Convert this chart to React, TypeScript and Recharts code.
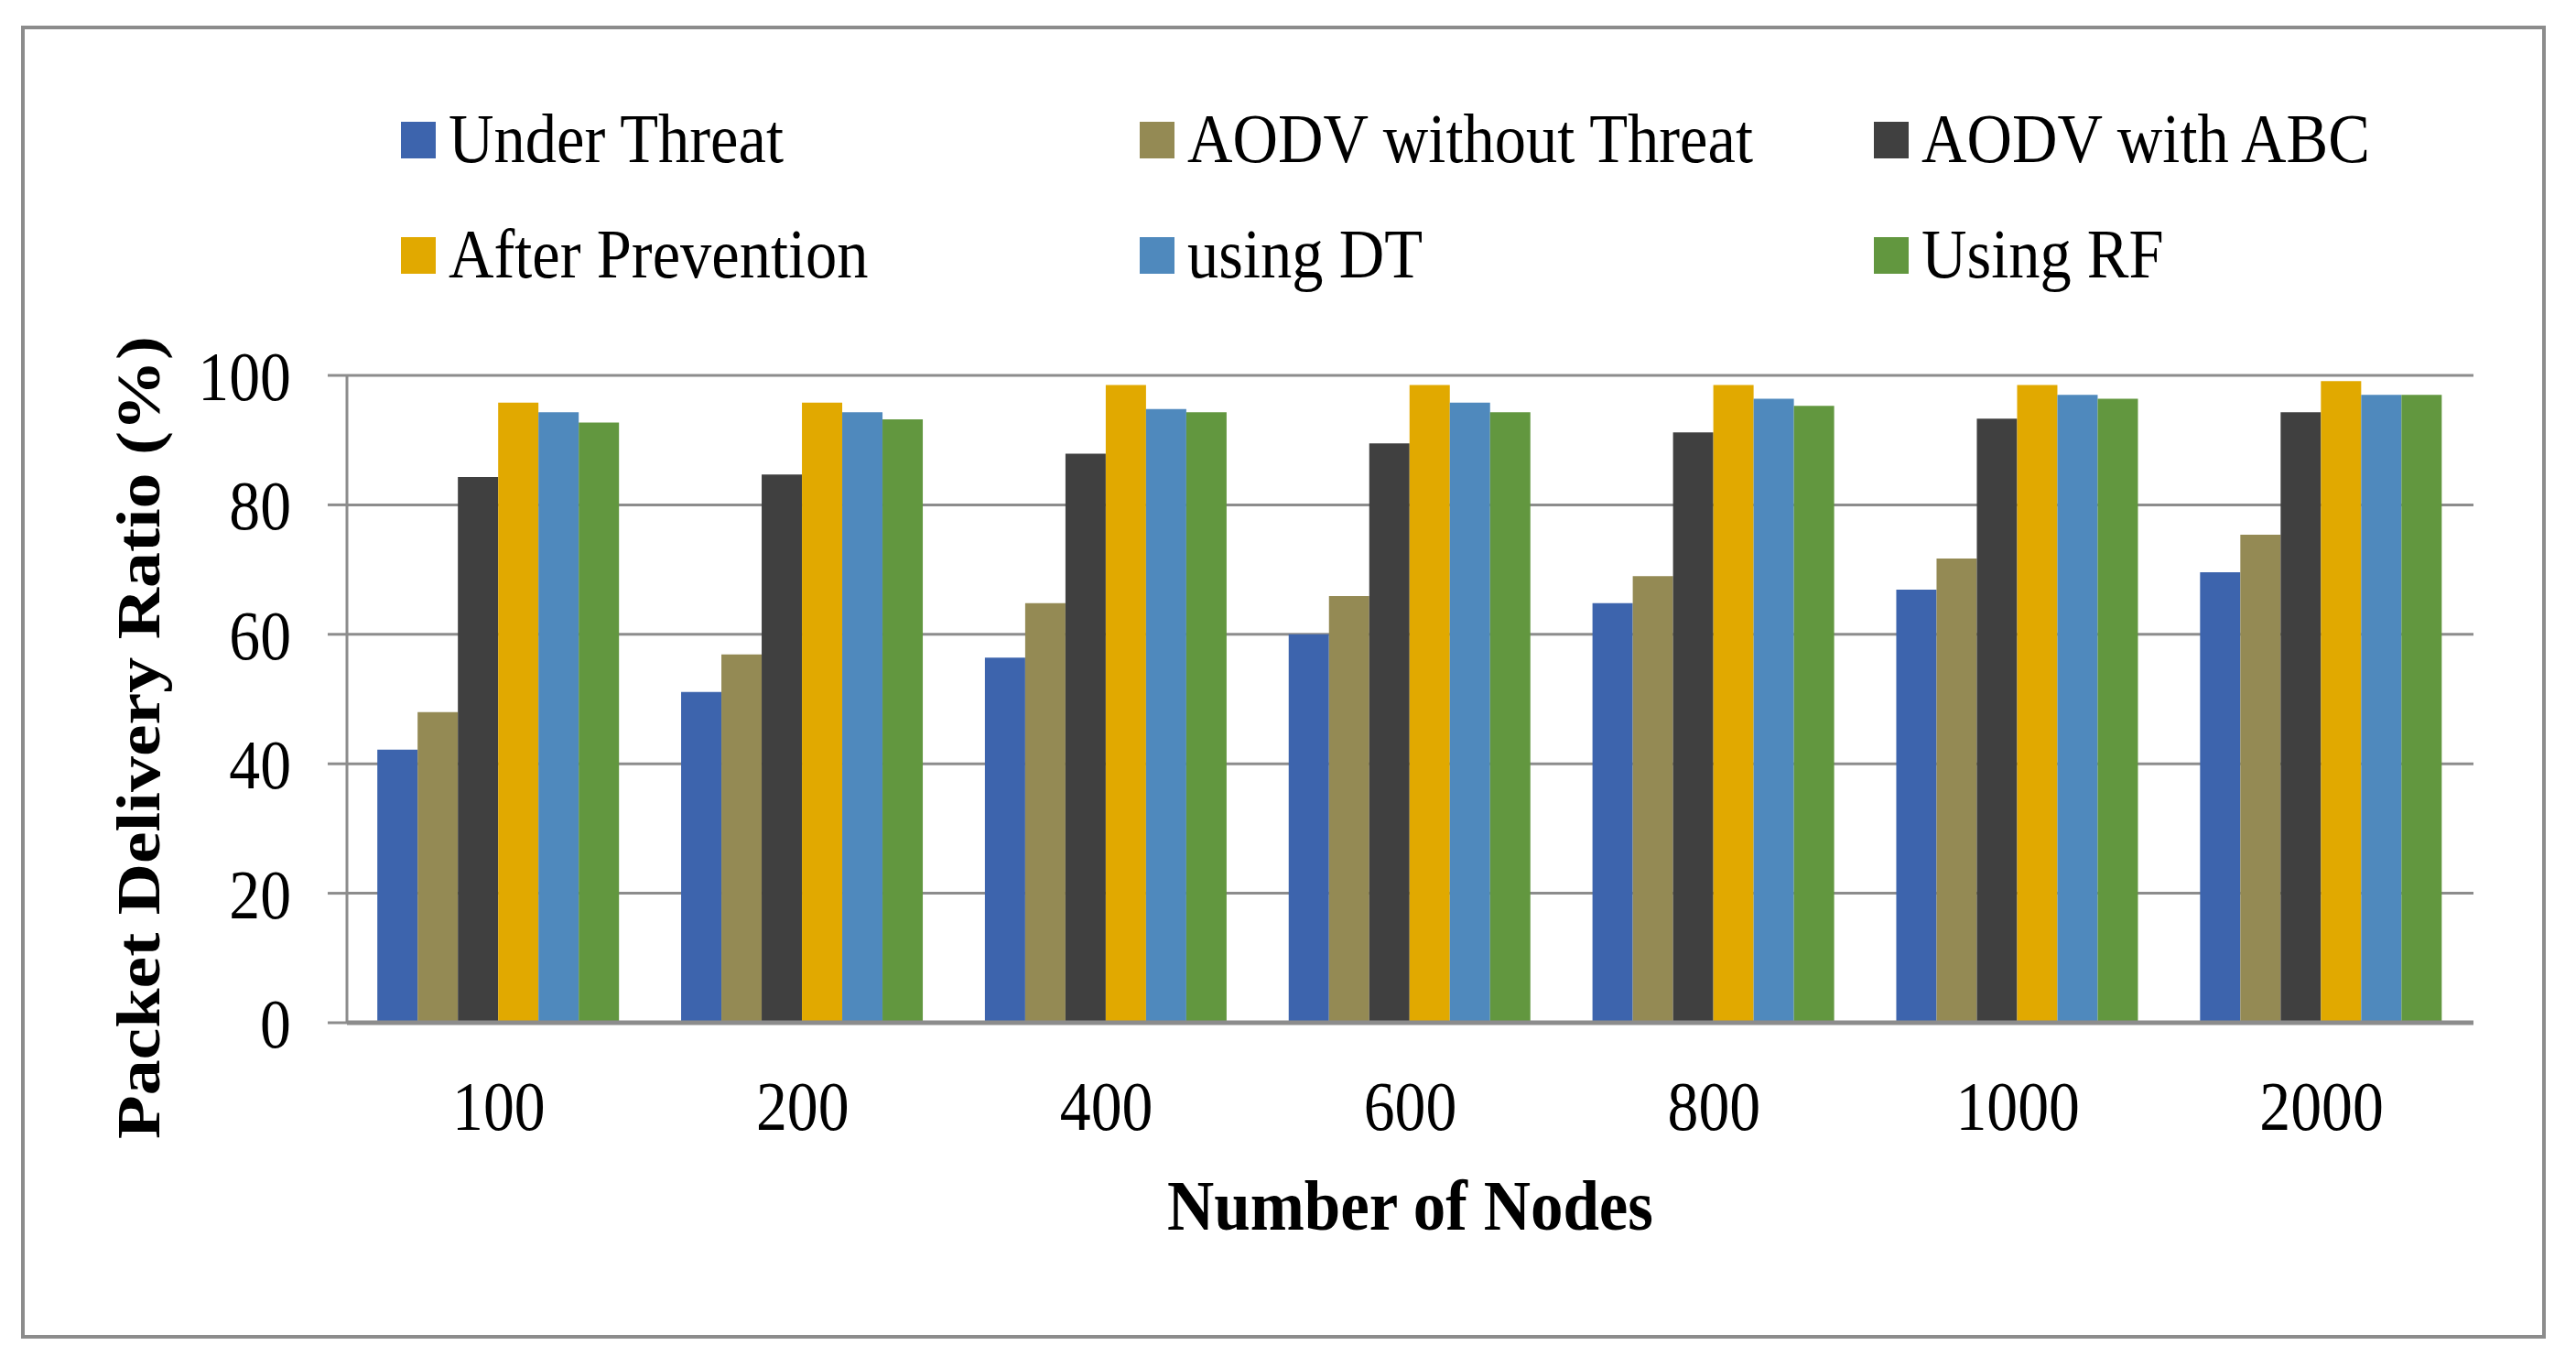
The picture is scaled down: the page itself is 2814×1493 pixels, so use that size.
import React from "react";
import { BarChart, Bar, XAxis, YAxis, CartesianGrid, Legend } from "recharts";

const categories = ["100", "200", "400", "600", "800", "1000", "2000"];
const underThreat = [42.2, 51.1, 56.4, 60.0, 64.8, 66.9, 69.6];
const aodvWithoutThreat = [48.0, 56.9, 64.8, 65.9, 69.0, 71.7, 75.4];
const aodvWithABC = [84.3, 84.7, 87.9, 89.5, 91.2, 93.3, 94.3];
const afterPrevention = [95.8, 95.8, 98.5, 98.5, 98.5, 98.5, 99.1];
const usingDT = [94.3, 94.3, 94.8, 95.8, 96.4, 97.0, 97.0];
const usingRF = [92.7, 93.2, 94.3, 94.3, 95.3, 96.4, 97.0];
const yTicks = [0, 20, 40, 60, 80, 100];

const seriesNames = ["Under Threat", "AODV without Threat", "AODV with ABC", "After Prevention", "using DT", "Using RF"];
const seriesValues = [underThreat, aodvWithoutThreat, aodvWithABC, afterPrevention, usingDT, usingRF];
const seriesColors = ["#3D64AD", "#948A54", "#404040", "#E1A900", "#4F89BD", "#62973F"];

const data = categories.map((c, i) => {
  const row: Record<string, string | number> = { name: c };
  seriesNames.forEach((s, j) => {
    row[s] = seriesValues[j][i];
  });
  return row;
});

const FONT = '"Liberation Serif", "Times New Roman", serif';
const SQUEEZE = 0.88;
const GRID = "#8c8c8c";

const YTick = (props: any) => {
  const { x, y, payload } = props;
  return (
    <g transform={`translate(${x},${y}) scale(${SQUEEZE},1)`}>
      <text x={0} y={0} dy="0.35em" textAnchor="end" fontFamily={FONT} fontSize={77} fill="#000">
        {payload.value}
      </text>
    </g>
  );
};

const XTick = (props: any) => {
  const { x, y, payload } = props;
  return (
    <g transform={`translate(${x},${y}) scale(${SQUEEZE},1)`}>
      <text x={0} y={0} textAnchor="middle" fontFamily={FONT} fontSize={77} fill="#000">
        {payload.value}
      </text>
    </g>
  );
};

const YTitle = (props: any) => {
  const vb = props.viewBox || { x: 0, y: 0, width: 0, height: 0 };
  const cx = vb.x + 174;
  const cy = vb.y + vb.height / 2 + 42;
  return (
    <text
      transform={`translate(${cx},${cy}) scale(${SQUEEZE},1) rotate(-90)`}
      textAnchor="middle"
      fontFamily={FONT}
      fontWeight="bold"
      fontSize={78}
      fill="#000"
    >
      Packet Delivery Ratio (%)
    </text>
  );
};

const XTitle = (props: any) => {
  const vb = props.viewBox || { x: 0, y: 0, width: 0, height: 0 };
  const cx = vb.x + vb.width / 2;
  const cy = vb.y + 226;
  return (
    <text
      transform={`translate(${cx},${cy}) scale(0.91,1)`}
      textAnchor="middle"
      fontFamily={FONT}
      fontWeight="bold"
      fontSize={78}
      fill="#000"
    >
      Number of Nodes
    </text>
  );
};

const legendCols = [438, 1245, 2047];

const LegendContent = (props: any) => {
  const payload: any[] = props.payload || [];
  return (
    <div style={{ position: "relative", width: 2814, height: 330 }}>
      {seriesNames.map((name, i) => {
        const item = payload.find((p) => p.value === name || p.dataKey === name);
        const color = item ? item.color : seriesColors[i];
        const col = i % 3;
        const row = Math.floor(i / 3);
        const left = legendCols[col];
        const top = 133 + row * 126;
        return (
          <React.Fragment key={name}>
            <div style={{ position: "absolute", left, top, width: 38, height: 40, background: color }} />
            <div
              style={{
                position: "absolute",
                left: left + 52,
                top: top - 20,
                fontFamily: FONT,
                fontSize: 77,
                lineHeight: "77px",
                color: "#000",
                whiteSpace: "nowrap",
                transform: `scaleX(0.89)`,
                transformOrigin: "left center",
              }}
            >
              {name}
            </div>
          </React.Fragment>
        );
      })}
    </div>
  );
};

export default function App() {
  return (
    <div style={{ position: "absolute", left: 0, top: 0, width: 2814, height: 1493, background: "#fff" }}>
      <div
        style={{
          position: "absolute",
          left: 23,
          top: 28,
          width: 2758,
          height: 1434,
          border: `4px solid ${GRID}`,
          boxSizing: "border-box",
        }}
      />
      <div style={{ position: "absolute", left: 0, top: 0 }}>
        <BarChart
          width={2814}
          height={1493}
          data={data}
          margin={{ top: 410, right: 112, bottom: 276, left: 0 }}
          barCategoryGap="10%"
          barGap={0}
        >
          <CartesianGrid vertical={false} stroke={GRID} strokeWidth={3} />
          <XAxis
            dataKey="name"
            height={100}
            axisLine={{ stroke: GRID, strokeWidth: 5 }}
            tickLine={false}
            tickSize={0}
            tickMargin={117}
            tick={<XTick />}
            interval={0}
            label={<XTitle />}
          />
          <YAxis
            width={379}
            domain={[0, 100]}
            ticks={yTicks}
            interval={0}
            axisLine={{ stroke: GRID, strokeWidth: 3 }}
            tickLine={{ stroke: GRID, strokeWidth: 3 }}
            tickSize={21}
            tickMargin={40}
            tick={<YTick />}
            label={<YTitle />}
          />
          <Legend
            layout="horizontal"
            verticalAlign="middle"
            align="center"
            wrapperStyle={{ left: 0, top: 0, width: 2814, height: 330 }}
            content={<LegendContent />}
          />
          {seriesNames.map((s, j) => (
            <Bar key={s} dataKey={s} name={s} fill={seriesColors[j]} isAnimationActive={false} />
          ))}
        </BarChart>
      </div>
    </div>
  );
}
